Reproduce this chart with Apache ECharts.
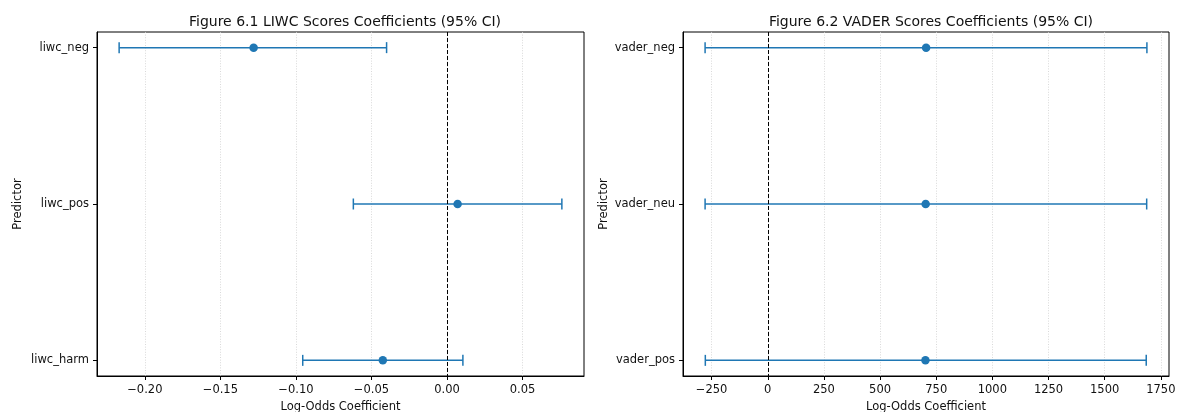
<!DOCTYPE html>
<html>
<head>
<meta charset="utf-8">
<script src="https://cdn.jsdelivr.net/npm/echarts@6/dist/echarts.min.js"></script>
<style>
  html, body { margin: 0; padding: 0; background: #fff; }
  #chart { width: 1179px; height: 412px; }
</style>
</head>
<body>
<div id="chart"></div>
<script>
// ---- data ----
var liwcNames = ['liwc_neg', 'liwc_pos', 'liwc_harm'];
var liwcCoef  = [-0.128, 0.007, -0.0425];
var liwcLow   = [-0.217, -0.062, -0.0955];
var liwcHigh  = [-0.040, 0.076, 0.0105];
var liwcTicks = [-0.20, -0.15, -0.10, -0.05, 0.00, 0.05];

var vaderNames = ['vader_neg', 'vader_neu', 'vader_pos'];
var vaderCoef  = [705, 703, 702];
var vaderLow   = [-279, -279, -278];
var vaderHigh  = [1688, 1687, 1685];
var vaderTicks = [-250, 0, 250, 500, 750, 1000, 1250, 1500, 1750];

var BLUE = '#1f77b4';
var FONT = 'DejaVu Sans';

// matplotlib style 5% padding around the data
function limits(low, high) {
  var lo = Math.min.apply(null, low), hi = Math.max.apply(null, high);
  var pad = (hi - lo) * 0.05;
  return [lo - pad, hi + pad];
}
function fmt(dec) {
  return function (v) {
    var s = Math.abs(v).toFixed(dec);
    return (v < -1e-9 ? '\u2212' : '') + s;
  };
}

var myChart = echarts.init(document.getElementById('chart'));

function errorData(low, high) {
  var out = [];
  for (var i = 0; i < low.length; i++) out.push([low[i], high[i], i]);
  return out;
}
function pointData(coef) {
  var out = [];
  for (var i = 0; i < coef.length; i++) out.push([coef[i], i]);
  return out;
}
function renderBar(params, api) {
  var a = api.coord([api.value(0), api.value(2)]);
  var b = api.coord([api.value(1), api.value(2)]);
  var cap = 5.5;
  var st = { stroke: BLUE, lineWidth: 1.5 };
  return {
    type: 'group',
    children: [
      { type: 'line', shape: { x1: a[0], y1: a[1], x2: b[0], y2: b[1] }, style: st },
      { type: 'line', shape: { x1: a[0], y1: a[1] - cap, x2: a[0], y2: a[1] + cap }, style: st },
      { type: 'line', shape: { x1: b[0], y1: b[1] - cap, x2: b[0], y2: b[1] + cap }, style: st }
    ]
  };
}

var liwcLim = limits(liwcLow, liwcHigh);
var vaderLim = limits(vaderLow, vaderHigh);

function xAxisFor(idx, lim, ticks, dec) {
  return {
    type: 'value', gridIndex: idx, min: lim[0], max: lim[1],
    name: 'Log-Odds Coefficient', nameLocation: 'middle', nameGap: 25,
    nameTextStyle: { fontFamily: FONT, fontSize: 11.5, color: '#111' },
    axisLine: { show: true, onZero: false, lineStyle: { color: '#000', width: 1 } },
    axisTick: { show: true, length: 4, customValues: ticks, lineStyle: { color: '#000' } },
    axisLabel: { customValues: ticks, formatter: fmt(dec), margin: 8,
      fontFamily: FONT, fontSize: 11.5, color: '#111' },
    splitLine: { show: true, lineStyle: { color: '#cfcfcf', type: [1, 1.6], width: 0.8 } }
  };
}
function yAxisFor(idx, names) {
  return {
    type: 'value', gridIndex: idx, min: -0.1, max: 2.1, inverse: true,
    name: 'Predictor', nameLocation: 'middle', nameGap: 73,
    nameTextStyle: { fontFamily: FONT, fontSize: 11.5, color: '#111' },
    axisLine: { show: true, onZero: false, lineStyle: { color: '#000', width: 1 } },
    axisTick: { show: true, length: 4, customValues: [0, 1, 2], lineStyle: { color: '#000' } },
    axisLabel: { customValues: [0, 1, 2], margin: 8, fontFamily: FONT, fontSize: 11.5, color: '#111',
      formatter: function (v) { return names[Math.round(v)]; } },
    splitLine: { show: false }
  };
}
function zeroLine() {
  return {
    silent: true, symbol: 'none', label: { show: false },
    lineStyle: { color: '#000', type: [4, 2], width: 1 },
    data: [{ xAxis: 0 }]
  };
}

myChart.setOption({
  animation: false,
  backgroundColor: '#fff',
  title: [
    { text: 'Figure 6.1 LIWC Scores Coefficients (95% CI)', left: 340, top: 10, textAlign: 'center',
      textStyle: { fontFamily: FONT, fontSize: 14, fontWeight: 'normal', color: '#111' } },
    { text: 'Figure 6.2 VADER Scores Coefficients (95% CI)', left: 926, top: 10, textAlign: 'center',
      textStyle: { fontFamily: FONT, fontSize: 14, fontWeight: 'normal', color: '#111' } }
  ],
  grid: [
    { left: 97, right: 595, top: 32, bottom: 36, outerBoundsMode: 'none',
      show: true, borderColor: '#000', borderWidth: 1 },
    { left: 683, right: 10, top: 32, bottom: 36, outerBoundsMode: 'none',
      show: true, borderColor: '#000', borderWidth: 1 }
  ],
  xAxis: [xAxisFor(0, liwcLim, liwcTicks, 2), xAxisFor(1, vaderLim, vaderTicks, 0)],
  yAxis: [yAxisFor(0, liwcNames), yAxisFor(1, vaderNames)],
  series: [
    { type: 'custom', xAxisIndex: 0, yAxisIndex: 0, renderItem: renderBar,
      data: errorData(liwcLow, liwcHigh), encode: { x: [0, 1], y: 2 }, z: 3 },
    { type: 'scatter', xAxisIndex: 0, yAxisIndex: 0, symbolSize: 8.5,
      itemStyle: { color: BLUE, opacity: 1 }, data: pointData(liwcCoef), z: 4,
      markLine: zeroLine() },
    { type: 'custom', xAxisIndex: 1, yAxisIndex: 1, renderItem: renderBar,
      data: errorData(vaderLow, vaderHigh), encode: { x: [0, 1], y: 2 }, z: 3 },
    { type: 'scatter', xAxisIndex: 1, yAxisIndex: 1, symbolSize: 8.5,
      itemStyle: { color: BLUE, opacity: 1 }, data: pointData(vaderCoef), z: 4,
      markLine: zeroLine() }
  ]
});
</script>
</body>
</html>
